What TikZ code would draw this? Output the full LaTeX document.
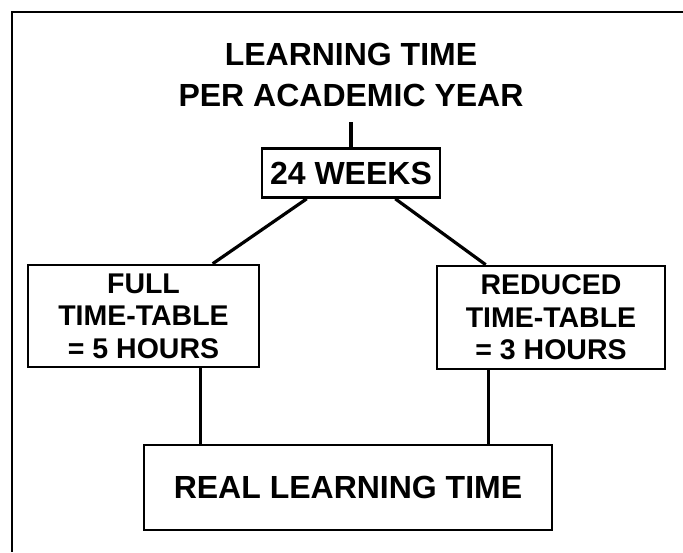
\documentclass[tikz,border=0pt]{standalone}
\usepackage{fontspec}
\setmainfont{Liberation Sans}
\begin{document}
\begin{tikzpicture}[x=1pt,y=-1pt,
  lbl/.style={font=\fontsize{32}{41}\selectfont\bfseries, align=center, inner sep=0pt},
  boxtxt/.style={draw, line width=2.6pt, font=\fontsize{28.5}{32.5}\selectfont\bfseries, align=center, inner sep=0pt},
  conn/.style={line width=3.2pt},
  frame/.style={line width=1.6pt}]
\useasboundingbox (0,0) rectangle (683,552);
% outer frame (top and left edges visible)
\coordinate (ftr) at (683,12);
\coordinate (ftl) at (12,12);
\coordinate (fbl) at (12,552);
\draw[frame] (ftr) -- (ftl) -- (fbl);
% title
\node[lbl] (title) at (351,75) {LEARNING TIME\\PER ACADEMIC YEAR};
\coordinate (tb) at (351,122);
% 24 weeks
\node[boxtxt, minimum width=178pt, minimum height=49pt, font=\fontsize{32}{36}\selectfont\bfseries] (w24) at (351,173) {24 WEEKS};
% side boxes
\node[boxtxt, minimum width=231pt, minimum height=102pt] (full) at (143.5,316) {FULL\\TIME-TABLE\\= 5 HOURS};
\node[boxtxt, minimum width=228pt, minimum height=103pt] (red) at (551,317.5) {REDUCED\\TIME-TABLE\\= 3 HOURS};
% bottom box
\node[boxtxt, minimum width=408pt, minimum height=85pt, font=\fontsize{32}{36}\selectfont\bfseries] (real) at (348,487.5) {REAL LEARNING TIME};
% connectors
\draw[conn] (tb) -- (w24.north);
\draw[conn] ([xshift=46pt]w24.south west) -- ([xshift=186pt]full.north west);
\draw[conn] ([xshift=-46pt]w24.south east) -- ([xshift=50pt]red.north west);
\draw[conn] ([xshift=174pt]full.south west) -- ([xshift=58pt]real.north west);
\draw[conn] ([xshift=53pt]red.south west) -- ([xshift=346pt]real.north west);
\end{tikzpicture}
\end{document}
